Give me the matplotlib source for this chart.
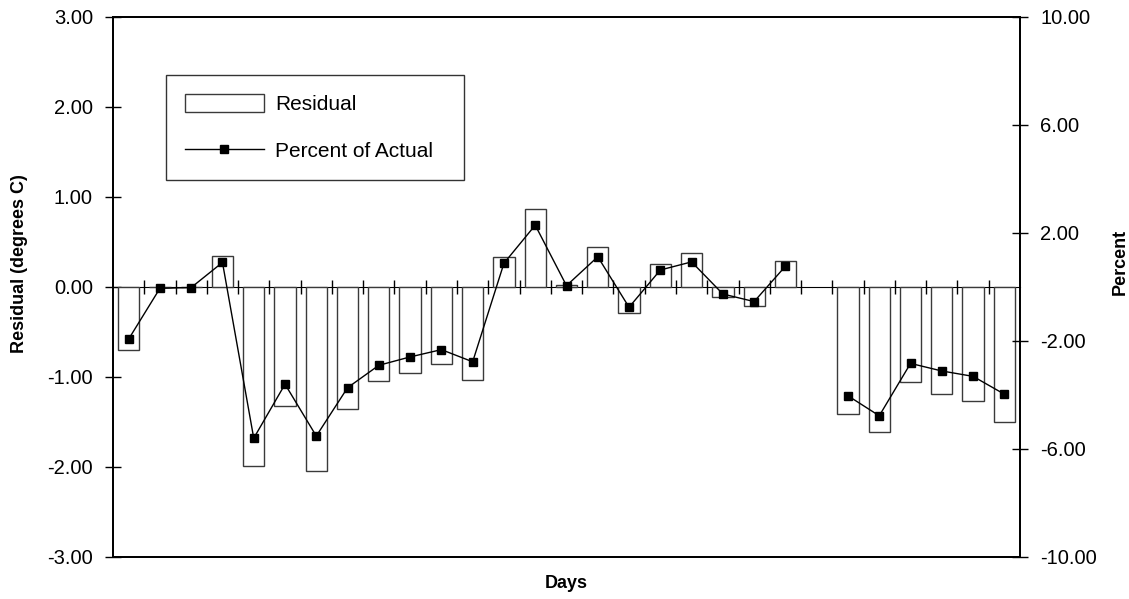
import numpy as np
import matplotlib
matplotlib.use("Agg")
import matplotlib.pyplot as plt
from matplotlib.patches import Patch
from matplotlib.lines import Line2D

plt.rcParams["font.family"] = ["Liberation Sans", "DejaVu Sans"]

# Daily residuals (degrees C) and the residual as a percent of the actual value
days = np.arange(29)
residual = [-0.70, 0.00, 0.00, 0.35, -1.99, -1.32, -2.04, -1.35, -1.04, -0.95,
            -0.85, -1.03, 0.33, 0.87, 0.02, 0.44, -0.29, 0.26, 0.38, -0.11,
            -0.21, 0.29, np.nan, -1.41, -1.61, -1.06, -1.19, -1.27, -1.50]
percent = [-1.93, -0.05, -0.02, 0.91, -5.60, -3.60, -5.52, -3.73, -2.90, -2.59,
           -2.32, -2.77, 0.88, 2.29, 0.05, 1.12, -0.75, 0.63, 0.93, -0.26,
           -0.54, 0.77, np.nan, -4.03, -4.77, -2.83, -3.11, -3.31, -3.97]
left_ticks = [-3, -2, -1, 0, 1, 2, 3]
right_ticks = [-10, -6, -2, 2, 6, 10]

W, H = 1129, 599
fig = plt.figure(figsize=(W / 100, H / 100), dpi=100)
ax = fig.add_axes([113 / W, 1 - 557 / H, (1020 - 113) / W, (557 - 17) / H])

res = np.array(residual, dtype=float)
ok = ~np.isnan(res)
ax.bar(days[ok], res[ok], width=0.68, facecolor="white",
       edgecolor="#3a3a3a", linewidth=1.0, zorder=2)

ax.set_xlim(-0.5, len(days) - 0.5)
ax.set_ylim(-3, 3)
ax.set_yticks(left_ticks)
ax.set_yticklabels([f"{v:.2f}" for v in left_ticks])
ax.tick_params(axis="y", direction="inout", length=11, width=1.0,
               labelsize=14.5, pad=9)
ax.set_xticks([])
for s in ax.spines.values():
    s.set_linewidth(1.3)
    s.set_color("black")

# Zero line with category boundary ticks crossing it
zero = ax.secondary_xaxis(0.5)
zero.set_xticks(np.arange(len(days) - 1) + 0.5)
zero.tick_params(direction="inout", length=10, width=1.0, labelbottom=False,
                 labeltop=False)
zero.spines["bottom"].set_linewidth(1.3)

ax2 = ax.twinx()
ax2.plot(days, percent, color="black", linewidth=1.0, marker="s",
         markersize=6, markerfacecolor="black", markeredgecolor="black",
         zorder=3)
ax2.set_ylim(-10, 10)
ax2.set_yticks(right_ticks)
ax2.set_yticklabels([f"{v:.2f}" for v in right_ticks])
ax2.tick_params(axis="y", direction="inout", length=11, width=1.0,
                labelsize=14.5, pad=9)
for s in ax2.spines.values():
    s.set_linewidth(1.3)
    s.set_color("black")

fig.text(20 / W, 1 - 264 / H, "Residual (degrees C)", rotation=90,
         ha="center", va="center", fontsize=13, fontweight="bold")
fig.text(1120 / W, 1 - 262 / H, "Percent", rotation=90,
         ha="center", va="center", fontsize=13, fontweight="bold")
fig.text(566 / W, 1 - 584 / H, "Days", ha="center", va="center",
         fontsize=13, fontweight="bold")

handles = [Patch(facecolor="white", edgecolor="#3a3a3a", linewidth=1.0),
           Line2D([], [], color="black", linewidth=1.0, marker="s",
                  markersize=6, markerfacecolor="black")]
leg_w = (464 - 166) / W
leg = ax2.legend(handles, ["Residual", "Percent of Actual"],
                 loc="upper left", mode="expand",
                 bbox_to_anchor=(166 / W, 1 - 75 / H - 0.2, leg_w, 0.2),
                 bbox_transform=fig.transFigure, fontsize=15,
                 frameon=True, fancybox=False, shadow=False,
                 handlelength=3.8, handleheight=1.0, handletextpad=0.55,
                 borderpad=0.9, labelspacing=1.28, borderaxespad=0)
leg.get_frame().set_edgecolor("black")
leg.get_frame().set_linewidth(1.0)

fig.savefig("out.png", dpi=100, facecolor="white")
